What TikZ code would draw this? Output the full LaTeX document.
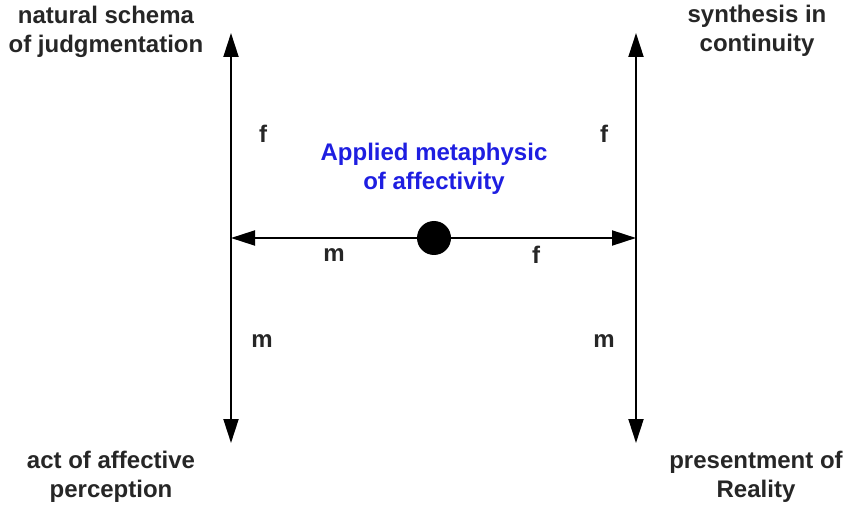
\documentclass[tikz,border=0pt]{standalone}
\usepackage{fontspec}
\setmainfont{Liberation Sans}
\usetikzlibrary{arrows.meta}
\definecolor{labelblue}{RGB}{30,30,225}
\tikzset{
  lbl/.style={font=\fontsize{24}{29}\selectfont\bfseries, align=center, inner sep=0pt, text=black!85},
  axis/.style={line width=2pt, -{Triangle[length=24pt,width=15pt]}},
}
\begin{document}
\begin{tikzpicture}[x=1pt,y=-1pt]
\useasboundingbox (0,0) rectangle (849,505);
% coordinates
\coordinate (lt) at (231,33);
\coordinate (lb) at (231,443);
\coordinate (rt) at (636,33);
\coordinate (rb) at (636,443);
\coordinate (lm) at (231,238);
\coordinate (rm) at (636,238);
\node[circle, fill=black, minimum size=34pt, inner sep=0pt] (dot) at (434,238) {};
% axes
\draw[axis] (lm) -- (lt);
\draw[axis] (lm) -- (lb);
\draw[axis] (rm) -- (rt);
\draw[axis] (rm) -- (rb);
\draw[axis] (dot) -- (lm);
\draw[axis] (dot) -- (rm);
% corner labels
\node[lbl] (tl) at (106,32) {natural schema\\of judgmentation};
\node[lbl] (tr) at (757,31) {synthesis in\\continuity};
\node[lbl] (bl) at (111,477) {act of affective\\perception};
\node[lbl] (br) at (756,477) {presentment of\\Reality};
% center label
\node[lbl, text=labelblue] (ctr) at (434,169) {Applied metaphysic\\of affectivity};
% letters
\node[lbl] (f1) at (263,134) {f};
\node[lbl] (f2) at (604,134) {f};
\node[lbl] (m1) at (334,255) {m};
\node[lbl] (f3) at (536,255) {f};
\node[lbl] (m2) at (262,341) {m};
\node[lbl] (m3) at (604,341) {m};
\end{tikzpicture}
\end{document}
